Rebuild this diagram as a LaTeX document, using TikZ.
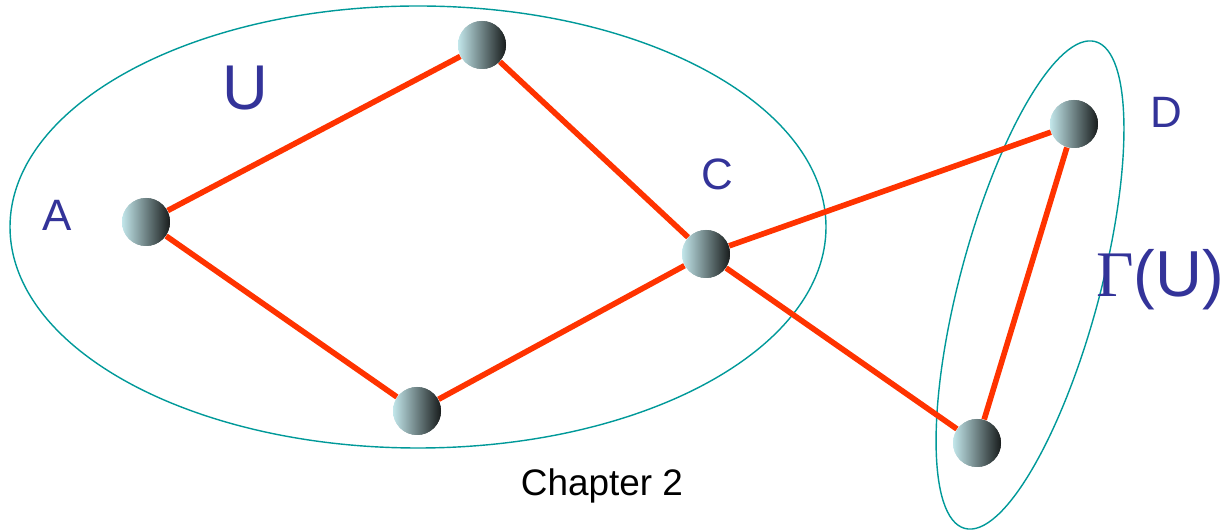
\documentclass[tikz,border=0pt]{standalone}
\usepackage{fontspec}
\setmainfont{Liberation Sans}
\newfontfamily\greekfont{Liberation Serif}
\definecolor{linkred}{HTML}{FF3300}
\definecolor{setteal}{HTML}{009999}
\definecolor{lblue}{HTML}{333399}
\definecolor{balllight}{HTML}{C2E6EA}
\definecolor{ballmid}{HTML}{94B4B7}
\definecolor{balldark}{HTML}{181C1C}
\begin{document}
\begin{tikzpicture}[semithick]
    \tikzset{ball/.style={circle,minimum size=0.96cm,inner sep=0pt,left color=balllight,middle color=ballmid,right color=balldark},
             link/.style={draw=linkred,line width=3.2pt},
             set/.style={draw=setteal,line width=0.8pt},
             lbl/.style={text=lblue,font=\fontsize{25}{29}\selectfont}};
    \useasboundingbox (0,0) rectangle (24.52,10.6);
    % the two sets
    \draw[set] (8.36,6.06) ellipse [x radius=8.16, y radius=4.42];
    \draw[set] (20.6,4.9) ellipse [x radius=5.04, y radius=1.4, rotate=75];
    % vertices
    \node[ball] (vT) at (9.64,9.70) {};
    \node[ball] (vA) at (2.92,6.16) {};
    \node[ball] (vC) at (14.12,5.52) {};
    \node[ball] (vB) at (8.34,2.38) {};
    \node[ball] (vD) at (21.48,8.12) {};
    \node[ball] (vE) at (19.54,1.74) {};
    {
      \path[link]
        (vA) edge (vT)
        (vT) edge (vC)
        (vA) edge (vB)
        (vB) edge (vC)
        (vC) edge (vD)
        (vC) edge (vE)
        (vD) edge (vE)
        ;
      }
    \foreach \v in {vT,vA,vC,vB,vD,vE} \node[ball] at (\v) {};
    % labels
    \node[lbl,font=\fontsize{36}{40}\selectfont] (lU) at (4.9,8.84) {U};
    \node[lbl] (lA) at (1.14,6.3) {A};
    \node[lbl] (lC) at (14.34,7.12) {C};
    \node[lbl] (lD) at (23.32,8.36) {D};
    \node[lbl,font=\fontsize{37}{42}\selectfont,inner sep=0pt] (lG) at (23.2,5.0) {{\greekfont Γ}(U)};
    \node[font=\fontsize{21}{25}\selectfont] (cap) at (12.04,0.88) {Chapter 2};
\end{tikzpicture}
\end{document}
